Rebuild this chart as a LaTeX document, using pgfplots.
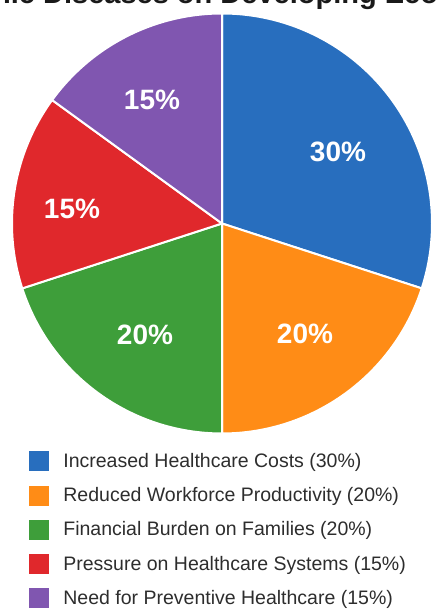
\documentclass[border=0pt]{standalone}
\usepackage{pgfplots}
\pgfplotsset{compat=1.18}
\usepackage{pgfplotstable}
\usepackage{fontspec}
\setmainfont{Liberation Sans}
\definecolor{c0}{RGB}{40,110,190}
\definecolor{c1}{RGB}{255,140,22}
\definecolor{c2}{RGB}{62,158,58}
\definecolor{c3}{RGB}{224,40,44}
\definecolor{c4}{RGB}{128,86,176}
\definecolor{textc}{RGB}{45,45,45}

\pgfplotstableread[col sep=comma]{
name,value,lx,ly
Increased Healthcare Costs,30,338,152
Reduced Workforce Productivity,20,305,334
Financial Burden on Families,20,145,335
Pressure on Healthcare Systems,15,72,209
Need for Preventive Healthcare,15,152,100
}\piedata

% cumulative angles (clockwise from the top)
\def\cum{0}
\pgfplotsforeachungrouped \i in {0,...,4}{%
  \pgfplotstablegetelem{\i}{value}\of\piedata
  \pgfmathsetmacro\s{90-3.6*\cum}%
  \pgfmathsetmacro\cum{\cum+\pgfplotsretval}%
  \pgfmathsetmacro\e{90-3.6*\cum}%
  \expandafter\xdef\csname sa\i\endcsname{\s}%
  \expandafter\xdef\csname ea\i\endcsname{\e}%
}

\begin{document}
\begin{tikzpicture}
\begin{axis}[
  hide axis, scale only axis,
  x=1pt, y=1pt,
  xmin=0, xmax=436, ymin=0, ymax=612,
  at={(0,0)}, anchor=south west,
  clip=false,
  legend cell align=left,
  legend style={at={(axis cs:29,160.5)}, anchor=north west, draw=none, fill=none,
    inner sep=0pt, outer sep=0pt, font=\fontsize{19.5}{23}\selectfont, text=textc,
    row sep=14.8pt, nodes={inner sep=0pt, outer sep=0pt},
    /tikz/every odd column/.append style={column sep=15pt}},
]
\path (axis cs:0,0) rectangle (axis cs:436,612);
\pgfplotsinvokeforeach{0,...,4}{%
  \edef\tmp{\noexpand\fill[c#1, draw=white, line width=2pt, line join=round]
    (axis cs:222,388.5) -- +(\csname sa#1\endcsname:210pt)
    arc[start angle=\csname sa#1\endcsname, end angle=\csname ea#1\endcsname, radius=210pt] -- cycle;}%
  \tmp
}
\pgfplotsinvokeforeach{0,...,4}{%
  \pgfplotstablegetelem{#1}{value}\of\piedata \let\vv\pgfplotsretval
  \pgfplotstablegetelem{#1}{lx}\of\piedata \let\lx\pgfplotsretval
  \pgfplotstablegetelem{#1}{ly}\of\piedata \let\ly\pgfplotsretval
  \pgfplotstablegetelem{#1}{name}\of\piedata \let\nm\pgfplotsretval
  \pgfmathsetmacro\lyy{612-\ly}%
  \edef\tmp{\noexpand\node[font=\noexpand\bfseries\noexpand\fontsize{28}{32}\noexpand\selectfont, text=white, inner sep=0pt]
    at (axis cs:\lx,\lyy) {\vv\noexpand\%};}%
  \tmp
  \addlegendimage{legend image code/.code={\fill[c#1] (0pt,-9.5pt) rectangle (19pt,9.5pt);}}
  \addlegendentryexpanded{\nm\space(\vv\noexpand\%)}
}
\node[overlay, anchor=base west, font=\bfseries\fontsize{29}{34}\selectfont, text=black!90, inner sep=0pt]
  at (axis cs:-7,608) {\llap{Impact of Chro}nic Diseases on Developing Economies};
\end{axis}
\pgfresetboundingbox
\path[use as bounding box] (0,0) rectangle (436pt,612pt);
\end{tikzpicture}
\end{document}
